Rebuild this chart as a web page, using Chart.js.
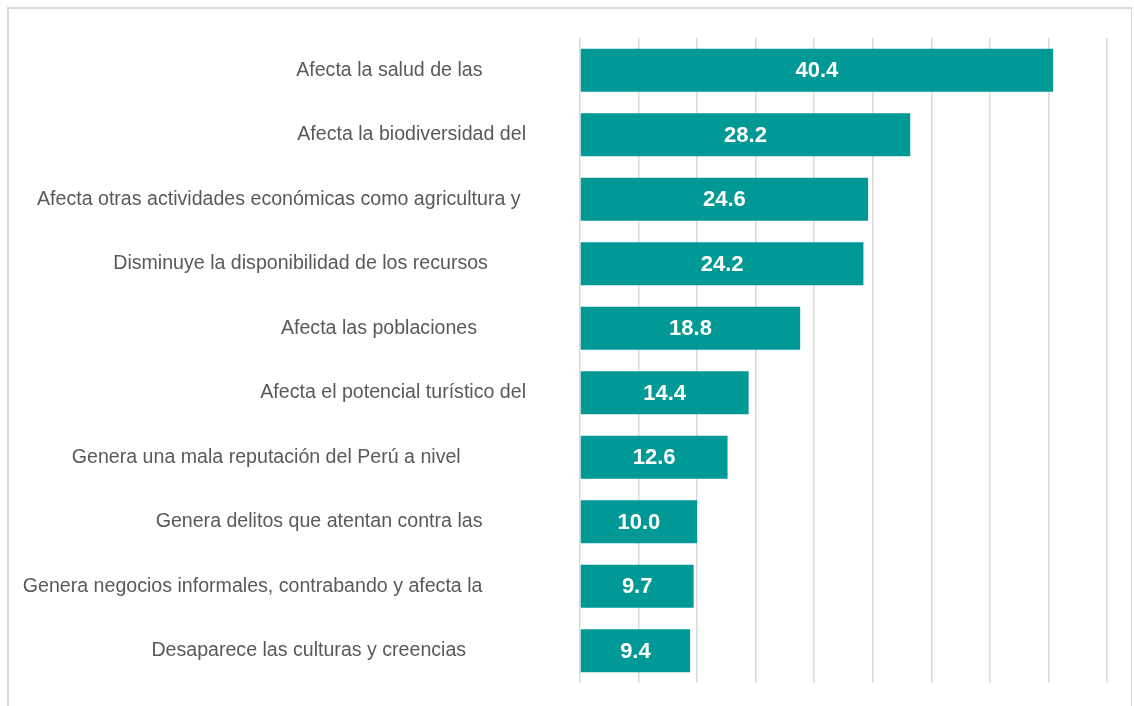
<!DOCTYPE html>
<html>
<head>
<meta charset="utf-8">
<script src="https://cdn.jsdelivr.net/npm/chart.js@4/dist/chart.umd.min.js"></script>
<style>
  html, body { margin: 0; padding: 0; background: #ffffff; overflow: hidden; }
  #frame { position: absolute; left: 7px; top: 7px; width: 1125px; height: 760px;
           border: 2px solid #d9d9d9; border-right-width: 1px; box-sizing: border-box; }
  #wrap { position: absolute; left: 0; top: 0; width: 1134px; height: 706px; }
</style>
</head>
<body>
<div id="frame"></div>
<div id="wrap"><canvas id="c" width="1134" height="706"></canvas></div>
<script>
// ---- data ----
const categories = [
  "Afecta la salud de las",
  "Afecta la biodiversidad del",
  "Afecta otras actividades económicas como agricultura y",
  "Disminuye la disponibilidad de los recursos",
  "Afecta las poblaciones",
  "Afecta el potencial turístico del",
  "Genera una mala reputación del Perú a nivel",
  "Genera delitos que atentan contra las",
  "Genera negocios informales, contrabando y afecta la",
  "Desaparece las culturas y creencias"
];
const values = [40.4, 28.2, 24.6, 24.2, 18.8, 14.4, 12.6, 10.0, 9.7, 9.4];
const xTicks = [0, 5, 10, 15, 20, 25, 30, 35, 40, 45];

// ---- layout (label indent, in spaces, to mimic original centered wrapped labels) ----
const labelIndent = [8, 0, 1, 7, 9, 0, 12, 8, 8, 11];

const valueLabels = {
  id: 'valueLabels',
  afterDatasetsDraw(chart) {
    const ctx = chart.ctx;
    const meta = chart.getDatasetMeta(0);
    ctx.save();
    ctx.font = 'bold 22px "Liberation Sans", Arial, sans-serif';
    ctx.fillStyle = '#ffffff';
    ctx.textAlign = 'center';
    ctx.textBaseline = 'middle';
    meta.data.forEach((bar, i) => {
      const cx = (bar.x + bar.base) / 2;
      ctx.fillText(values[i].toFixed(1), cx, bar.y + 1);
    });
    ctx.restore();
  }
};

new Chart(document.getElementById('c'), {
  type: 'bar',
  data: {
    labels: categories,
    datasets: [{
      data: values,
      backgroundColor: '#009995',
      borderWidth: 0,
      barPercentage: 0.667,
      categoryPercentage: 1.0
    }]
  },
  options: {
    indexAxis: 'y',
    responsive: false,
    animation: false,
    layout: { padding: { top: 38, right: 27, bottom: 23, left: 0 } },
    plugins: { legend: { display: false }, tooltip: { enabled: false } },
    scales: {
      x: {
        min: xTicks[0],
        max: xTicks[xTicks.length - 1],
        afterBuildTicks(scale) { scale.ticks = xTicks.map(v => ({ value: v })); },
        afterFit(scale) { scale.height = 0; scale.paddingLeft = 0; scale.paddingRight = 0; },
        ticks: { display: false },
        grid: { color: '#d9d9d9', lineWidth: 1.5, drawTicks: false },
        border: { display: false }
      },
      y: {
        afterFit(scale) { scale.width = 580; scale.paddingTop = 0; scale.paddingBottom = 0; },
        grid: { display: false, drawTicks: false },
        border: { display: false },
        ticks: {
          padding: 54,
          color: '#595959',
          font: { family: '"Liberation Sans", Arial, sans-serif', size: 19.6 },
          callback(value, index) {
            return categories[index] + ' '.repeat(labelIndent[index]);
          }
        }
      }
    }
  },
  plugins: [valueLabels]
});
</script>
</body>
</html>
